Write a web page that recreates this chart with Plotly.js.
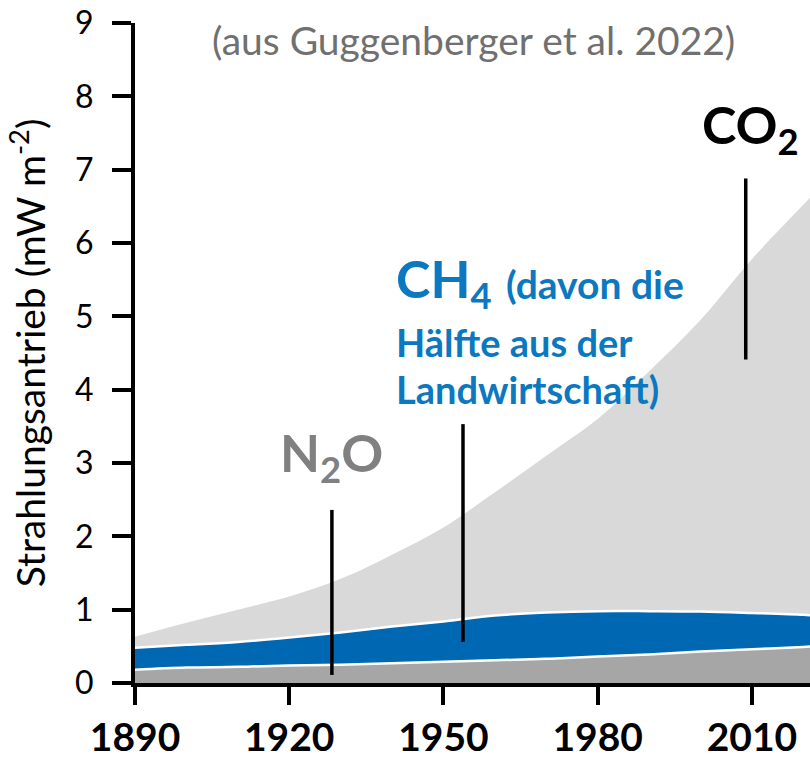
<!DOCTYPE html>
<html>
<head>
<meta charset="utf-8">
<script src="https://cdn.plot.ly/plotly-3.0.1.min.js"></script>
<style>
  html, body { margin: 0; padding: 0; background: #ffffff; }
  #chart { width: 810px; height: 761px; }
</style>
</head>
<body>
<div id="chart"></div>
<script>
// Years of the series
const years = [1890, 1900, 1910, 1920, 1930, 1940, 1950, 1960, 1970, 1980, 1990, 2000, 2010, 2020, 2022];
// Radiative forcing contributions (mW m-2), stacked from bottom
const n2o = [0.18, 0.21, 0.22, 0.24, 0.25, 0.27, 0.29, 0.31, 0.33, 0.36, 0.39, 0.43, 0.46, 0.49, 0.50];
const ch4 = [0.30, 0.31, 0.34, 0.38, 0.44, 0.50, 0.55, 0.61, 0.63, 0.62, 0.59, 0.545, 0.495, 0.44, 0.42];
const co2 = [0.15, 0.30, 0.44, 0.56, 0.73, 0.98, 1.28, 1.68, 2.14, 2.62, 3.27, 3.975, 4.825, 5.59, 5.75];
// Axis ticks
const xTicks = [1890, 1920, 1950, 1980, 2010];
const yTicks = [0, 1, 2, 3, 4, 5, 6, 7, 8, 9];

const FONT = "Lato, 'Open Sans', sans-serif";

const traces = [
  { x: years, y: n2o, name: "N2O", type: "scatter", mode: "lines", stackgroup: "one",
    fillcolor: "#a6a6a6", line: { color: "#ffffff", width: 2.5, shape: "spline", smoothing: 1 } },
  { x: years, y: ch4, name: "CH4", type: "scatter", mode: "lines", stackgroup: "one",
    fillcolor: "#0068b3", line: { color: "#ffffff", width: 2.5, shape: "spline", smoothing: 1 } },
  { x: years, y: co2, name: "CO2", type: "scatter", mode: "lines", stackgroup: "one",
    fillcolor: "#d9d9d9", line: { color: "#d9d9d9", width: 0, shape: "spline", smoothing: 1 } }
];

function px(x) { return (x - 135) / 675; }
function py(y) { return (683 - y) / 660; }

const layout = {
  width: 810, height: 761,
  margin: { l: 135, r: 0, t: 23, b: 78, pad: 0 },
  paper_bgcolor: "#ffffff", plot_bgcolor: "#ffffff",
  showlegend: false,
  font: { family: FONT, color: "#000000" },
  xaxis: {
    range: [1890, 2021.3], tickvals: xTicks, ticktext: xTicks.map(String),
    showgrid: false, zeroline: false, showline: true, linecolor: "#000000", linewidth: 4,
    ticks: "outside", ticklen: 18, tickwidth: 4, tickcolor: "#000000",
    tickfont: { family: FONT, size: 39, color: "#000000", weight: 700 },
    ticklabelstandoff: -1
  },
  yaxis: {
    range: [0, 9], tickvals: yTicks, ticktext: yTicks.map(String),
    showgrid: false, zeroline: false, showline: true, linecolor: "#000000", linewidth: 4,
    ticks: "outside", ticklen: 19, tickwidth: 4, tickcolor: "#000000",
    tickfont: { family: FONT, size: 32, color: "#000000" },
    ticklabelstandoff: 12,
    title: { text: "Strahlungsantrieb (mW m<sup>-2</sup>)", font: { family: FONT, size: 39, color: "#000000" }, standoff: 18 }
  },
  annotations: [
    { text: "(aus Guggenberger et al. 2022)", xref: "paper", yref: "paper", x: px(473), y: py(15),
      xanchor: "center", yanchor: "top", showarrow: false, font: { family: FONT, size: 39, color: "#707070" } },
    { text: "N<sub>2</sub>O", xref: "paper", yref: "paper", x: px(278), y: py(419),
      xanchor: "left", yanchor: "top", showarrow: false, font: { family: FONT, size: 52, color: "#808080", weight: 700 } },
    { text: "CH<sub>4</sub>", xref: "paper", yref: "paper", x: px(394), y: py(244.7),
      xanchor: "left", yanchor: "top", showarrow: false, font: { family: FONT, size: 52, color: "#0b78c0", weight: 700 } },
    { text: "(davon die", xref: "paper", yref: "paper", x: px(504), y: py(258.5),
      xanchor: "left", yanchor: "top", showarrow: false, font: { family: FONT, size: 39, color: "#0b78c0", weight: 700 } },
    { text: "Hälfte aus der", xref: "paper", yref: "paper", x: px(394), y: py(316.5),
      xanchor: "left", yanchor: "top", showarrow: false, font: { family: FONT, size: 38, color: "#0b78c0", weight: 700 } },
    { text: "Landwirtschaft)", xref: "paper", yref: "paper", x: px(394), y: py(364.5),
      xanchor: "left", yanchor: "top", showarrow: false, font: { family: FONT, size: 38, color: "#0b78c0", weight: 700 } },
    { text: "CO<sub>2</sub>", xref: "paper", yref: "paper", x: px(700), y: py(91),
      xanchor: "left", yanchor: "top", showarrow: false, font: { family: FONT, size: 52, color: "#000000", weight: 700 } }
  ],
  shapes: [
    { type: "line", xref: "x", yref: "y", x0: 1928.3, x1: 1928.3, y0: 0.11, y1: 2.36, line: { color: "#000000", width: 3.5 }, layer: "above" },
    { type: "line", xref: "x", yref: "y", x0: 1953.8, x1: 1953.8, y0: 0.56, y1: 3.53, line: { color: "#000000", width: 3.5 }, layer: "above" },
    { type: "line", xref: "x", yref: "y", x0: 2008.8, x1: 2008.8, y0: 4.41, y1: 6.88, line: { color: "#000000", width: 3.5 }, layer: "above" }
  ]
};

Plotly.newPlot("chart", traces, layout, { displayModeBar: false, staticPlot: true });
</script>
</body>
</html>
